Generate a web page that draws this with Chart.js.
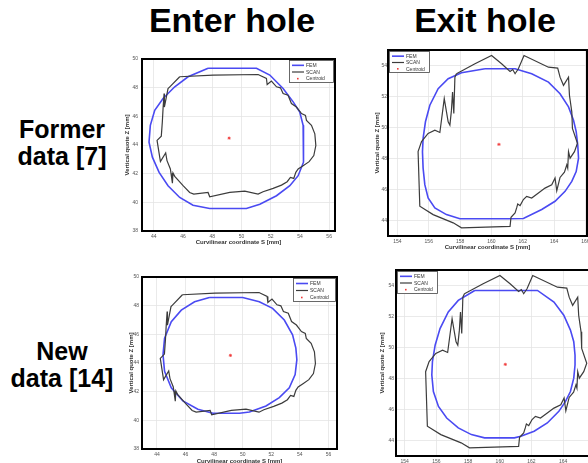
<!DOCTYPE html>
<html><head><meta charset="utf-8">
<script src="https://cdn.jsdelivr.net/npm/chart.js@4/dist/chart.umd.min.js"></script>
<style>
html,body{margin:0;padding:0;background:#fff;width:588px;height:463px;overflow:hidden;position:relative;font-family:"Liberation Sans",Arial,sans-serif;color:#000}
.colt{position:absolute;top:3px;font-weight:bold;font-size:34px;line-height:34px;white-space:nowrap;transform:translateX(-50%)}
.rowt{position:absolute;left:0;width:124px;text-align:center;font-weight:bold;font-size:25px;line-height:27px}
canvas{position:absolute}
</style>
</head><body>
<div class="colt" style="left:232px">Enter hole</div>
<div class="colt" style="left:485px">Exit hole</div>
<div class="rowt" style="top:116px">Former<br>data [7]</div>
<div class="rowt" style="top:338px">New<br>data [14]</div>
<canvas id="p1"></canvas><canvas id="p2"></canvas><canvas id="p3"></canvas><canvas id="p4"></canvas>
<script>
// ---- tick labels ----
const ENTER_S_TICKS = [44,46,48,50,52,54,56];
const ENTER_Z_TICKS = [38,40,42,44,46,48,50];
const EXIT_S_TICKS = [154,156,158,160,162,164,166];
const EXIT_Z_TICKS = [44,46,48,50,52,54];

// ---- Enter hole, former data: FEM contour ----
const ENTER_FORMER_FEM_S = [47.72,49.20,51.03,51.94,52.85,53.54,53.99,54.22,54.27,54.22,53.88,53.31,52.40,51.26,50.34,47.83,46.69,45.78,44.98,44.37,43.91,43.68,43.77,44.07,44.64,45.44,46.35];
const ENTER_FORMER_FEM_Z = [49.35,49.35,49.35,48.88,47.94,47.01,46.30,45.37,43.97,42.80,41.86,41.16,40.46,39.87,39.57,39.57,39.80,40.34,41.16,42.09,43.15,44.20,45.37,46.42,47.24,48.06,48.76];
// ---- Enter hole, new data: FEM contour ----
const ENTER_NEW_FEM_S = [47.67,50.00,51.16,52.09,52.91,53.49,53.72,53.79,53.67,53.26,52.56,51.63,50.47,49.77,47.91,46.86,45.81,45.00,44.53,44.42,44.53,45.00,45.70,46.63];
const ENTER_NEW_FEM_Z = [48.57,48.57,48.27,47.81,47.00,45.96,45.04,44.23,43.19,42.27,41.58,41.00,40.58,40.49,40.49,40.77,41.35,42.27,43.42,44.58,45.73,46.88,47.69,48.27];
// ---- Enter hole: SCAN contour ----
const ENTER_SCAN_S = [45.78,48.06,51.14,51.71,51.76,52.05,52.40,52.67,52.85,53.19,53.42,53.76,54.11,54.38,54.45,54.79,55.02,55.09,54.95,54.63,54.22,53.88,53.72,53.58,53.35,53.13,52.74,52.17,51.48,51.14,50.23,49.20,47.83,47.72,46.74,46.46,46.01,45.44,45.32,45.28,45.14,44.91,44.82,44.46,44.23,44.52,44.59,44.64,44.71,44.73,44.98,45.10];
const ENTER_SCAN_Z = [48.76,48.88,48.92,48.64,48.22,48.46,48.06,47.99,47.59,47.47,46.89,46.65,46.19,46.07,45.72,45.37,44.78,43.96,43.26,42.84,42.56,42.33,42.09,41.67,41.74,41.44,41.20,40.97,40.74,40.57,40.78,40.69,40.39,40.69,40.57,40.69,41.16,41.81,42.05,41.34,42.33,42.91,43.45,42.84,44.32,44.62,45.60,46.54,47.59,46.65,47.94,48.06];
// ---- Exit hole, former data: FEM contour ----
const EXIT_FORMER_FEM_S = [159.59,161.51,162.57,163.64,164.38,164.92,165.24,165.41,165.51,165.56,165.41,165.13,164.70,164.06,163.21,162.04,161.08,157.99,157.13,156.39,155.96,155.75,155.64,155.60,155.64,155.79,156.07,156.60,157.24,158.09];
const EXIT_FORMER_FEM_Z = [53.79,53.79,53.47,52.93,52.18,51.33,50.47,49.73,48.87,48.02,47.16,46.52,45.88,45.24,44.71,44.13,44.11,44.11,44.38,44.81,45.45,46.31,47.38,48.44,49.30,50.37,51.44,52.50,53.15,53.53];
// ---- Exit hole, new data: FEM contour ----
const EXIT_NEW_FEM_S = [158.42,162.38,163.42,164.04,164.46,164.67,164.75,164.75,164.67,164.46,164.15,163.73,163.00,162.17,161.33,160.92,159.04,158.21,157.38,156.65,156.13,155.81,155.71,155.75,155.92,156.23,156.75,157.38];
const EXIT_NEW_FEM_Z = [53.68,53.68,52.93,52.08,51.12,50.37,49.51,48.87,48.02,47.16,46.52,45.88,45.13,44.60,44.28,44.17,44.17,44.38,44.81,45.45,46.20,47.16,48.23,49.09,50.15,51.22,52.29,53.04];
// ---- Exit hole: SCAN contour ----
const EXIT_SCAN_S = [157.77,158.95,160.01,160.65,161.19,161.36,161.51,161.72,162.08,163.64,164.23,164.38,164.60,164.92,164.98,165.13,165.17,165.49,165.30,165.02,164.92,164.87,164.81,164.66,164.38,164.17,164.06,163.85,163.42,163.00,162.57,162.25,162.04,161.83,161.68,161.61,161.51,161.25,161.19,158.09,157.56,156.28,155.43,155.32,155.54,155.96,156.39,156.71,156.99,157.24,157.35,157.45,157.52,157.60,157.67];
const EXIT_SCAN_Z = [53.47,54.11,54.64,54.11,53.62,53.74,53.47,53.79,54.64,53.89,53.83,53.25,52.72,53.25,52.08,51.01,49.94,48.98,48.44,48.02,48.44,47.38,47.59,47.12,46.78,45.92,46.74,46.31,46.09,45.77,45.45,45.56,45.35,44.96,45.07,44.81,44.49,44.21,43.62,43.53,43.85,44.38,44.92,48.44,49.09,49.62,49.83,49.68,51.86,50.37,50.15,51.12,52.29,50.90,53.25];
// ---- centroids [S, Z] ----
const ENTER_FORMER_CENTROID = [49.16,44.48];
const ENTER_NEW_CENTROID = [49.14,44.53];
const EXIT_FORMER_CENTROID = [160.48,48.91];
const EXIT_NEW_CENTROID = [160.35,48.91];

const SERIES_LABELS = ['FEM','SCAN','Centroid'];
const X_TITLE = 'Curvilinear coordinate S [mm]';
const Y_TITLE = 'Vertical quote Z [mm]';

function loop(S,Z){ const p=S.map((s,i)=>({x:s,y:Z[i]})); p.push({x:S[0],y:Z[0]}); return p; }

const PANELS = [
 {id:'p1', plot:[142,59,335,231], W:18, H:15, yPad:4, sRange:[43.2,56.4], zRange:[38,50], sTicks:ENTER_S_TICKS, zTicks:ENTER_Z_TICKS,
  fem:[ENTER_FORMER_FEM_S,ENTER_FORMER_FEM_Z], scan:[ENTER_SCAN_S,ENTER_SCAN_Z], cen:ENTER_FORMER_CENTROID, legend:{corner:'tr',dx:1,dy:1,w:45,h:23}},
 {id:'p2', plot:[388,50,587,236], W:14, H:15, yPad:1, sRange:[153.4,166.1], zRange:[43,55], sTicks:EXIT_S_TICKS, zTicks:EXIT_Z_TICKS,
  fem:[EXIT_FORMER_FEM_S,EXIT_FORMER_FEM_Z], scan:[EXIT_SCAN_S,EXIT_SCAN_Z], cen:EXIT_FORMER_CENTROID, legend:{corner:'tl',dx:1,dy:1,w:41,h:22}},
 {id:'p3', plot:[142,277,337,449], W:14, H:16, yPad:3, sRange:[42.95,56.6], zRange:[38,50], sTicks:ENTER_S_TICKS, zTicks:ENTER_Z_TICKS,
  fem:[ENTER_NEW_FEM_S,ENTER_NEW_FEM_Z], scan:[ENTER_SCAN_S,ENTER_SCAN_Z], cen:ENTER_NEW_CENTROID, legend:{corner:'tr',dx:1,dy:1,w:43,h:24}},
 {id:'p4', plot:[396,270,596,456], W:17, H:15, yPad:2, sRange:[153.45,166], zRange:[43,55], sTicks:EXIT_S_TICKS, zTicks:EXIT_Z_TICKS,
  fem:[EXIT_NEW_FEM_S,EXIT_NEW_FEM_Z], scan:[EXIT_SCAN_S,EXIT_SCAN_Z], cen:EXIT_NEW_CENTROID, legend:{corner:'tl',dx:1,dy:1,w:41,h:23}}
];
const PAD_T = 8, PAD_R = 6;

const frameLegend = {
 id:'frameLegend',
 afterDraw(chart, args, o){
  const ctx = chart.ctx, a = chart.chartArea;
  ctx.save();
  ctx.strokeStyle = '#000'; ctx.lineWidth = 2;
  ctx.strokeRect(a.left, a.top, a.right-a.left, a.bottom-a.top);
  const L = o.legend;
  const x = L.corner==='tr' ? a.right - L.dx - L.w : a.left + L.dx;
  const y = a.top + L.dy;
  ctx.fillStyle = '#fff'; ctx.fillRect(x, y, L.w, L.h);
  ctx.strokeStyle = '#444'; ctx.lineWidth = 0.8; ctx.strokeRect(x+0.5, y+0.5, L.w-1, L.h-1);
  const step = (L.h-3)/3;
  ctx.font = '5px "Liberation Sans", Arial, sans-serif';
  ctx.textBaseline = 'middle'; ctx.textAlign = 'left';
  chart.data.datasets.forEach((ds, i) => {
   const ry = y + 2 + step*(i+0.5);
   if (ds.showLine) {
    ctx.strokeStyle = ds.borderColor; ctx.lineWidth = ds.borderWidth;
    ctx.beginPath(); ctx.moveTo(x+3, ry); ctx.lineTo(x+15, ry); ctx.stroke();
   } else {
    ctx.fillStyle = ds.pointBackgroundColor;
    ctx.fillRect(x+8, ry-0.8, 1.6, 1.6);
   }
   ctx.fillStyle = '#333';
   ctx.fillText(ds.label, x+17, ry+0.3);
  });
  ctx.restore();
 }
};

PANELS.forEach(P => {
 const [l,t,r,b] = P.plot;
 const cv = document.getElementById(P.id);
 cv.width = (r-l) + P.W + PAD_R; cv.height = (b-t) + PAD_T + P.H;
 cv.style.left = (l-P.W)+'px'; cv.style.top = (t-PAD_T)+'px';
 new Chart(cv, {
  type:'scatter',
  data:{datasets:[
   {label:SERIES_LABELS[0], data:loop(P.fem[0],P.fem[1]), showLine:true, borderColor:'#4a4af2', borderWidth:1.6, pointRadius:0, order:2},
   {label:SERIES_LABELS[1], data:loop(P.scan[0],P.scan[1]), showLine:true, borderColor:'#3c3c3c', borderWidth:1.2, pointRadius:0, order:1},
   {label:SERIES_LABELS[2], data:[{x:P.cen[0],y:P.cen[1]}], showLine:false, pointStyle:'star', pointRadius:1.6, borderWidth:0.8, borderColor:'#f03a3a', pointBackgroundColor:'#f03a3a', order:0}
  ]},
  options:{
   responsive:false, animation:false, devicePixelRatio:1,
   layout:{padding:{top:PAD_T, right:PAD_R, left:0, bottom:0}},
   plugins:{legend:{display:false}, tooltip:{enabled:false}, frameLegend:{legend:P.legend}},
   scales:{
    x:{type:'linear', min:P.sRange[0], max:P.sRange[1],
       afterBuildTicks:s=>{s.ticks=P.sTicks.map(v=>({value:v}));},
       afterFit:s=>{s.height=P.H;},
       grid:{color:'#e4e4e4', drawTicks:false, lineWidth:0.8}, border:{display:false},
       ticks:{font:{size:5}, color:'#555', padding:3, maxRotation:0, autoSkip:false},
       title:{display:true, text:X_TITLE, font:{size:6, weight:'bold'}, color:'#333', padding:0}},
    y:{type:'linear', min:P.zRange[0], max:P.zRange[1],
       afterBuildTicks:s=>{s.ticks=P.zTicks.map(v=>({value:v}));},
       afterFit:s=>{s.width=P.W;},
       grid:{color:'#e4e4e4', drawTicks:false, lineWidth:0.8}, border:{display:false},
       ticks:{font:{size:5}, color:'#555', padding:P.yPad, autoSkip:false},
       title:{display:true, text:Y_TITLE, font:{size:6, weight:'bold'}, color:'#333', padding:0}}
   }
  },
  plugins:[frameLegend]
 });
});
</script>
</body></html>
